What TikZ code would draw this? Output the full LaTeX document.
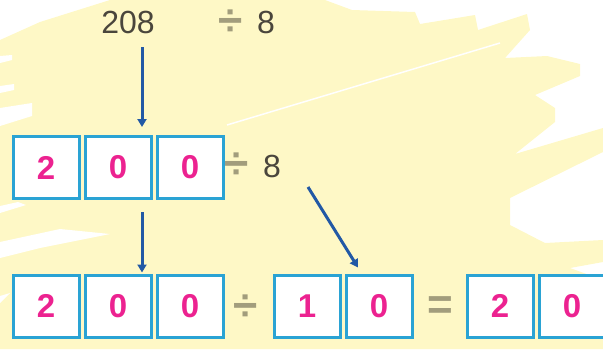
\documentclass[tikz,border=0pt]{standalone}
\usepackage{fontspec}
\setmainfont{Liberation Sans}
\usepackage{tikz}
\usetikzlibrary{positioning, arrows.meta}

\definecolor{bgyellow}{HTML}{FEF8C6}
\definecolor{cellblue}{HTML}{2AA3D4}
\definecolor{digitpink}{HTML}{EC2290}
\definecolor{txtdark}{HTML}{4A463C}
\definecolor{opolive}{HTML}{A29D7C}
\definecolor{arrblue}{HTML}{2259A5}

\begin{document}
\begin{tikzpicture}[
          x=1pt, y=-1pt,
          cell/.style={draw=cellblue, line width=3pt, fill=white, minimum width=66pt, minimum height=62pt,
            inner sep=0pt, text=digitpink, font=\fontsize{33}{33}\selectfont\bfseries},
          num/.style={inner sep=0pt, text=txtdark, font=\fontsize{32}{32}\selectfont},
          op/.style={inner sep=0pt, text=opolive, font=\fontsize{44}{44}\selectfont\bfseries},
          arr/.style={draw=arrblue, line width=3pt, -{Triangle[length=8pt,width=9pt]}}
        ]
        \useasboundingbox (0,0) rectangle (603,349);
        % scribbled background
        \fill[bgyellow] (110,0) -- (325,0) -- (352,10) -- (415,12) -- (420,24) -- (475,15) -- (478,30)
          -- (527,14) -- (530,30) -- (505,58) -- (547,56) -- (580,64) -- (580,76) -- (535,95)
          -- (555,108) -- (555,122) -- (515,154) -- (603,128) -- (603,152) -- (510,198) -- (510,225)
          -- (545,243) -- (603,240) -- (603,262) -- (570,268) -- (603,280) -- (603,349) -- (0,349)
          -- (0,40) -- (40,22) -- cycle;
        \fill[white] (0,56) -- (12,55) -- (12,60) -- (0,63) -- cycle;
        \fill[white] (0,86) -- (14,84) -- (14,90) -- (0,93) -- cycle;
        \fill[white] (0,108) -- (32,103) -- (32,116) -- (0,126) -- cycle;
        \fill[white] (0,206) -- (18,202) -- (26,205) -- (0,213) -- cycle;
        \fill[white] (0,242) -- (60,229) -- (110,234) -- (40,248) -- (0,258) -- cycle;
        \fill[white] (0,296) -- (10,293) -- (0,303) -- cycle;
        \draw[white, line width=1.5pt] (227,125) -- (500,43);
        % top line
        \node[num] (n208) at (128,22) {208};
        \node[op] (d1) at (231,23) {÷};
        \node[num] (e1) at (266,22) {8};
        % middle row
        \foreach \d [count=\i] in {2,0,0}{\node[cell] (m\i) at ({46+72*(\i-1)},167.5) {\d};}
        \node[op] (d2) at (237,166) {÷};
        \node[num] (e2) at (272,166) {8};
        % bottom row
        \foreach \d [count=\i] in {2,0,0}{\node[cell] (b\i) at ({46+72*(\i-1)},306) {\d};}
        \node[op] (d3) at (246,308) {÷};
        \node[cell, right=48pt of b3] (b4) {1};
        \node[cell, right=3pt of b4] (b5) {0};
        \node[op] (eq) at (440,308) {=};
        \node[cell, right=52pt of b5] (b6) {2};
        \node[cell, right=3pt of b6] (b7) {0};
        % arrows
        \coordinate (s1) at (142,47);
        \coordinate (s3) at (308,187);
        \draw[arr] (s1) -- ([xshift=-10.5pt,yshift=8pt]m2.north east);
        \draw[arr] ([xshift=-10.5pt,yshift=-12pt]m2.south east) -- ([xshift=-10.5pt,yshift=1pt]b2.north east);
        \draw[arr] (s3) -- ([xshift=-21pt,yshift=6pt]b5.north);
      \end{tikzpicture}
\end{document}
